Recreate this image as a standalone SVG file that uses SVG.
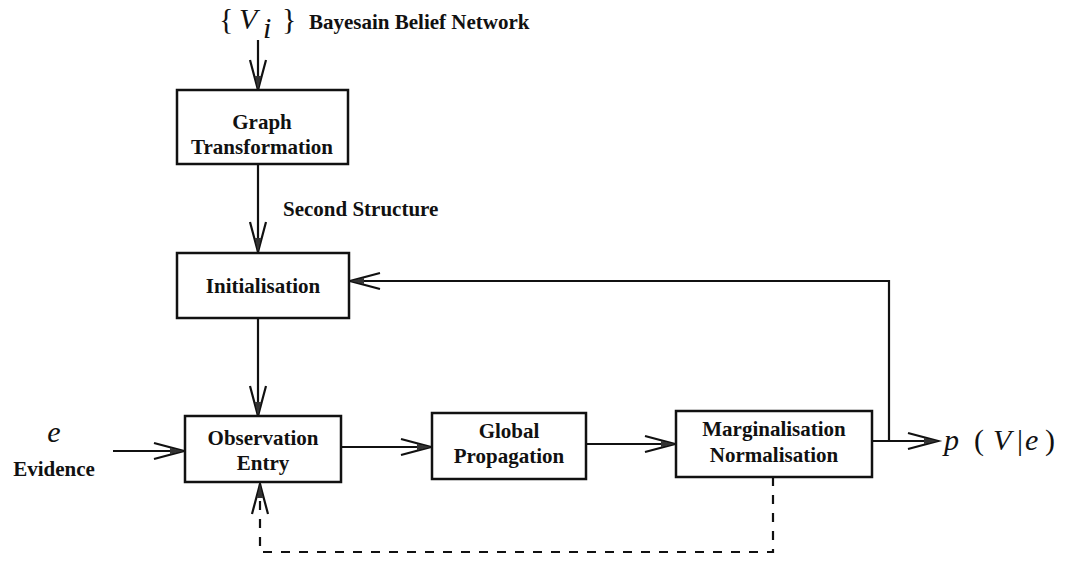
<svg xmlns="http://www.w3.org/2000/svg" width="1080" height="564" viewBox="0 0 1080 564">
  <style>
    .box { fill: #fff; stroke: #111; stroke-width: 2.5; }
    .lbl { font-family: "Liberation Serif", "Times New Roman", serif; font-weight: bold; font-size: 21px; fill: #111; text-anchor: middle; }
    .side { font-family: "Liberation Serif", "Times New Roman", serif; font-weight: bold; font-size: 21px; fill: #111; }
    .math { font-family: "Liberation Serif", "Times New Roman", serif; font-size: 30px; fill: #111; }
    .it { font-style: italic; }
    .wire { fill: none; stroke: #111; stroke-width: 2.2; }
    .dash { stroke-dasharray: 9 9; }
  </style>
  <defs>
    <marker id="arrow" markerUnits="userSpaceOnUse" viewBox="-32 -10 34 20" refX="0" refY="0" markerWidth="34" markerHeight="20" orient="auto" overflow="visible">
      <path d="M-30,-8 L0,0 L-30,8" fill="none" stroke="#111" stroke-width="2.2" stroke-dasharray="none"/>
      <path d="M0,0 L-14,-3 L-14,3 Z" fill="#333" stroke="none"/>
    </marker>
  </defs>

  <rect width="1080" height="564" fill="#fff"/>

  <!-- input network label -->
  <g id="input">
    <text class="math" x="219" y="29" font-size="30">{</text>
    <text class="math it" x="239" y="29" font-size="32">V</text>
    <text class="math it" x="263" y="38" font-size="22">i</text>
    <text class="math" x="282" y="29" font-size="30">}</text>
    <text class="side" x="309" y="29">Bayesain Belief Network</text>
  </g>

  <g id="connectors">
    <path class="wire" d="M258,40 V90" marker-end="url(#arrow)"/>
    <path class="wire" d="M258,164 V252" marker-end="url(#arrow)"/>
    <path class="wire" d="M258,318 V416" marker-end="url(#arrow)"/>
    <path class="wire" d="M113,451 H184" marker-end="url(#arrow)"/>
    <path class="wire" d="M341,447 H431" marker-end="url(#arrow)"/>
    <path class="wire" d="M586,444 H675" marker-end="url(#arrow)"/>
    <path class="wire" d="M872,441 H938" marker-end="url(#arrow)"/>
    <path class="wire" d="M889,441 V281 H350" marker-end="url(#arrow)"/>
    <path class="wire dash" d="M773,477 V552 H260 V484" marker-end="url(#arrow)"/>
  </g>

  <g id="graph-transformation">
    <rect class="box" x="177" y="90" width="171" height="74"/>
    <text class="lbl" x="262" y="129">Graph</text>
    <text class="lbl" x="262" y="154">Transformation</text>
  </g>

  <text id="second-structure" class="side" x="283" y="216">Second Structure</text>

  <g id="initialisation">
    <rect class="box" x="177" y="253" width="172" height="65"/>
    <text class="lbl" x="263" y="293">Initialisation</text>
  </g>

  <g id="evidence">
    <text class="math it" x="54" y="442" text-anchor="middle">e</text>
    <text class="lbl" x="54" y="476">Evidence</text>
  </g>

  <g id="observation-entry">
    <rect class="box" x="185" y="416" width="156" height="66"/>
    <text class="lbl" x="263" y="445">Observation</text>
    <text class="lbl" x="263" y="470">Entry</text>
  </g>

  <g id="global-propagation">
    <rect class="box" x="432" y="413" width="154" height="66"/>
    <text class="lbl" x="509" y="438">Global</text>
    <text class="lbl" x="509" y="463">Propagation</text>
  </g>

  <g id="marginalisation-normalisation">
    <rect class="box" x="676" y="411" width="196" height="66"/>
    <text class="lbl" x="774" y="436">Marginalisation</text>
    <text class="lbl" x="774" y="462">Normalisation</text>
  </g>

  <g id="output">
    <text class="math it" x="944" y="450">p</text>
    <text class="math" x="974" y="450">(</text>
    <text class="math it" x="993" y="450">V</text>
    <text class="math" x="1017" y="450">|</text>
    <text class="math it" x="1025" y="450">e</text>
    <text class="math" x="1045" y="450">)</text>
  </g>
</svg>
